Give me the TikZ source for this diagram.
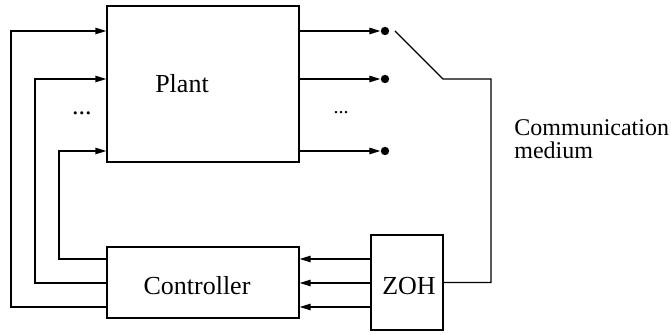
\documentclass[tikz,border=0pt]{standalone}
\usepackage{fontspec}
\setmainfont{Liberation Serif}
\usetikzlibrary{arrows.meta}

\begin{document}
\begin{tikzpicture}[x=0.5pt, y=-0.5pt,
    block/.style={draw, line width=0.7pt, inner sep=0pt},
    lbl/.style={font=\fontsize{13}{15}\selectfont, inner sep=0pt},
    note/.style={font=\fontsize{12}{14}\selectfont, inner sep=0pt, anchor=base west},
    conn/.style={line width=0.7pt},
    arr/.style={conn, -{Triangle[length=5.5pt,width=3.2pt]}},
    port/.style={circle, fill, inner sep=0pt, minimum size=4.2pt}]
  \useasboundingbox (0,0) rectangle (671,335);

  \node[block, minimum width=96pt, minimum height=78pt]   (plant) at (203,84) {};
  \node[block, minimum width=96pt, minimum height=35.5pt] (ctrl)  at (203,282.5) {};
  \node[block, minimum width=36pt, minimum height=47.5pt] (zoh)   at (407,282.5) {};

  \node[lbl] (plantlbl) at (182,84)  {Plant};
  \node[lbl] (ctrllbl)  at (197,286) {Controller};
  \node[lbl] (zohlbl)   at (409,286) {ZOH};

  \node[lbl] (ldots) at (82,113) {...};
  \node[lbl, font=\fontsize{10}{12}\selectfont] (rdots) at (341,113) {...};

  % plant outputs
  \foreach \n/\y in {1/31, 2/79, 3/151} {
    \node[port] (out\n) at (385,\y) {};
    \draw[arr] (plant.east |- out\n) -- (out\n.west);
  }

  % controller to plant
  \foreach \xl/\yp/\yc in {11/31/307, 35/79/283, 59/151/259}
    \draw[arr] (ctrl.west |- 0,\yc) -| (\xl,\yp) -- (plant.west |- 0,\yp);

  % zoh to controller
  \foreach \y in {259, 283, 307}
    \draw[arr] (zoh.west |- 0,\y) -- (ctrl.east |- 0,\y);

  % switch
  \coordinate (swtip) at (395,31);
  \draw[conn] (swtip) -- (443,79) -- (491,79) |- (zoh.east);

  \node[note] (comm)   at (514,136) {Communication};
  \node[note] (medium) at (514,159) {medium};
\end{tikzpicture}
\end{document}
